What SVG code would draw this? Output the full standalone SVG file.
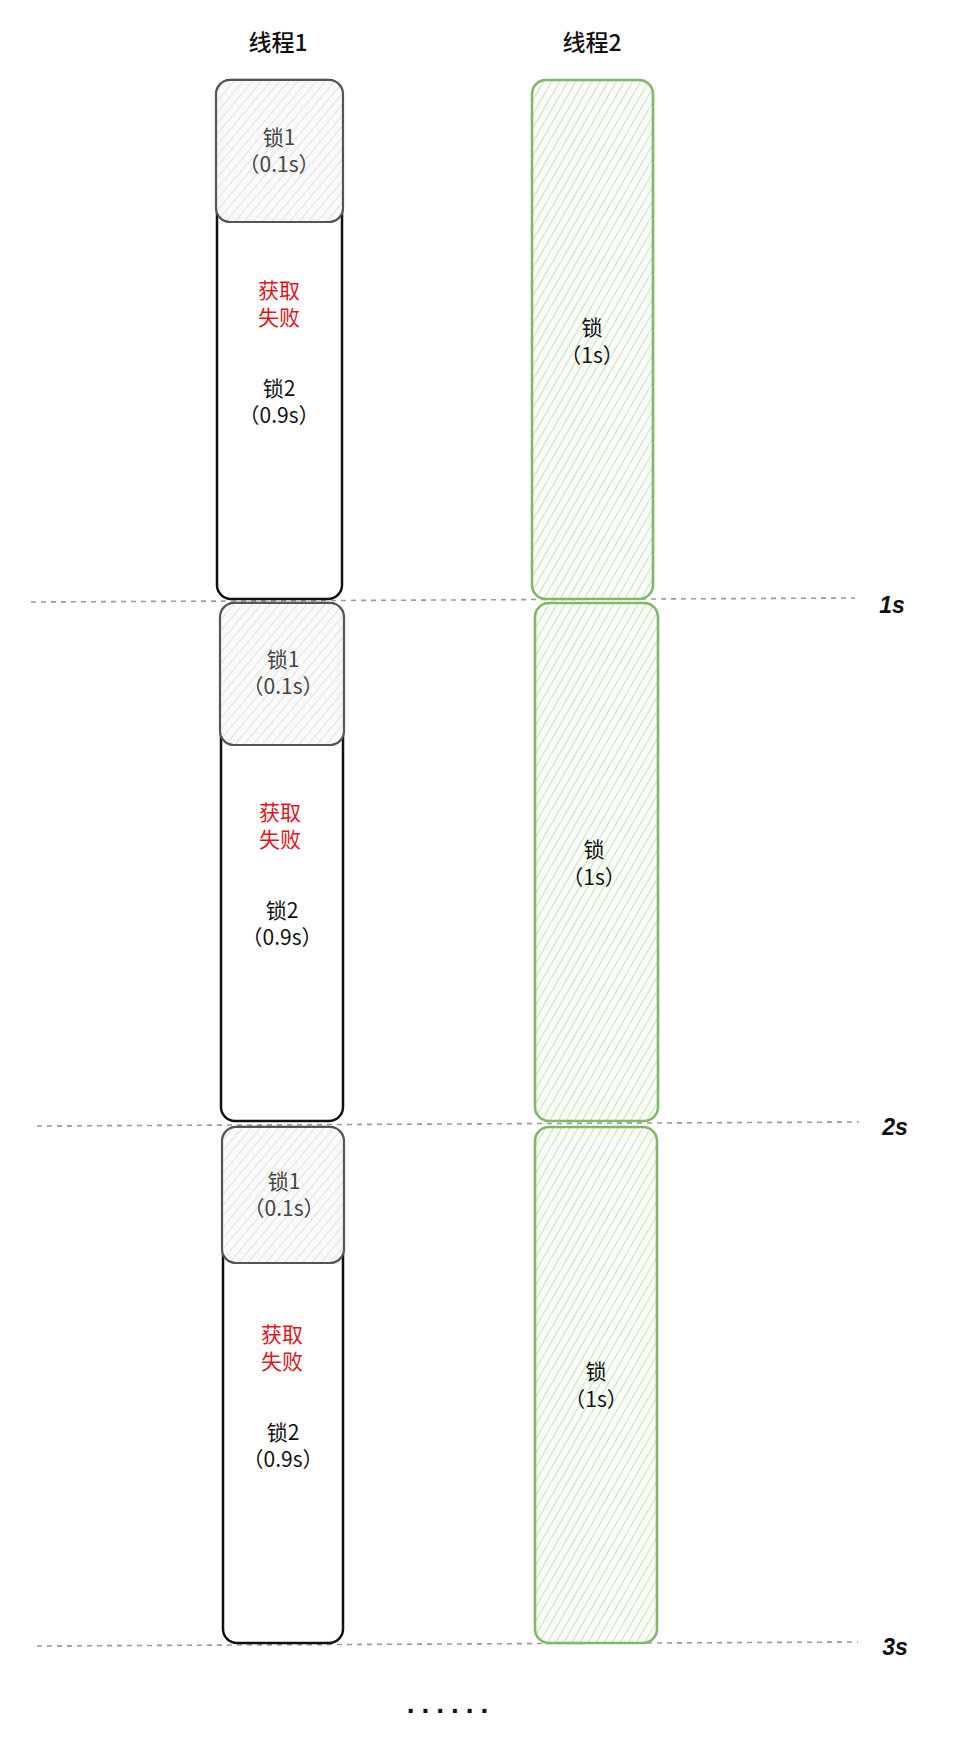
<svg xmlns="http://www.w3.org/2000/svg" width="972" height="1748" viewBox="0 0 972 1748">
<style>
text{font-family:"Noto Sans CJK SC","Noto Sans",sans-serif;text-anchor:middle;dominant-baseline:central}
.title{font-size:23px;font-weight:500;fill:#111}
.lk1{font-size:21px;fill:#444}
.red{font-size:21px;fill:#e0151c}
.blk{font-size:21px;fill:#111}
.tm{font-family:"Liberation Sans",sans-serif;font-size:23px;font-style:italic;font-weight:bold;fill:#111}
.outer{fill:#fff;stroke:#111;stroke-width:2.5}
.lock1{fill:url(#hatchGray);stroke:#555;stroke-width:2.2}
.green{fill:url(#hatchGreen);stroke:#82b766;stroke-width:2.6}
.dash{stroke:#9a9a9a;stroke-width:1.6;stroke-dasharray:5 5;fill:none}
</style>
<defs>
<pattern id="hatchGray" width="7" height="7" patternUnits="userSpaceOnUse" patternTransform="rotate(40)">
<rect width="7" height="7" fill="#f9f9f9"/>
<line x1="0" y1="0" x2="0" y2="7" stroke="#d6d6d6" stroke-width="1.3"/>
</pattern>
<pattern id="hatchGreen" width="7" height="7" patternUnits="userSpaceOnUse" patternTransform="rotate(30)">
<rect width="7" height="7" fill="#f9fcf7"/>
<line x1="0" y1="0" x2="0" y2="7" stroke="#bcdaa9" stroke-width="1.5"/>
</pattern>
</defs>
<rect width="972" height="1748" fill="#fff"/>

<g id="titles">
<text class="title" x="278" y="41">线程1</text>
<text class="title" x="592" y="41">线程2</text>
</g>

<g id="timeline">
<line class="dash" x1="31" y1="602" x2="855" y2="598"/>
<line class="dash" x1="37" y1="1126" x2="859" y2="1122"/>
<line class="dash" x1="37" y1="1646" x2="858" y2="1642"/>
<text class="tm" x="892" y="605">1s</text>
<text class="tm" x="895" y="1127">2s</text>
<text class="tm" x="895" y="1647">3s</text>
<text x="451" y="1703" style="font-family:'Liberation Sans',sans-serif;font-size:28px;font-weight:bold;fill:#111;letter-spacing:7px">......</text>
</g>

<g id="t1-block1">
<rect class="outer" x="217" y="80" width="125" height="519" rx="14"/>
<rect class="lock1" x="216" y="80" width="127" height="142" rx="14"/>
<text class="lk1" x="279" y="136">锁1<tspan x="279" dy="27">（0.1s）</tspan></text>
<text class="red" x="279" y="289">获取<tspan x="279" dy="27">失败</tspan></text>
<text class="blk" x="279" y="387">锁2<tspan x="279" dy="27">（0.9s）</tspan></text>
</g>
<g id="t2-block1">
<rect class="green" x="532" y="80" width="121" height="519" rx="14"/>
<text class="blk" x="592" y="326">锁<tspan x="592" dy="28">（1s）</tspan></text>
</g>

<g id="t1-block2">
<rect class="outer" x="221" y="603" width="122" height="518" rx="14"/>
<rect class="lock1" x="220" y="603" width="124" height="142" rx="14"/>
<text class="lk1" x="283" y="658">锁1<tspan x="283" dy="27">（0.1s）</tspan></text>
<text class="red" x="280" y="811">获取<tspan x="280" dy="27">失败</tspan></text>
<text class="blk" x="282" y="909">锁2<tspan x="282" dy="27">（0.9s）</tspan></text>
</g>
<g id="t2-block2">
<rect class="green" x="535" y="603" width="123" height="518" rx="14"/>
<text class="blk" x="594" y="848">锁<tspan x="594" dy="28">（1s）</tspan></text>
</g>

<g id="t1-block3">
<rect class="outer" x="223" y="1127" width="120" height="516" rx="14"/>
<rect class="lock1" x="222" y="1127" width="122" height="136" rx="14"/>
<text class="lk1" x="284" y="1180">锁1<tspan x="284" dy="27">（0.1s）</tspan></text>
<text class="red" x="282" y="1333">获取<tspan x="282" dy="27">失败</tspan></text>
<text class="blk" x="283" y="1431">锁2<tspan x="283" dy="27">（0.9s）</tspan></text>
</g>
<g id="t2-block3">
<rect class="green" x="535" y="1127" width="122" height="516" rx="14"/>
<text class="blk" x="596" y="1370">锁<tspan x="596" dy="28">（1s）</tspan></text>
</g>
</svg>
